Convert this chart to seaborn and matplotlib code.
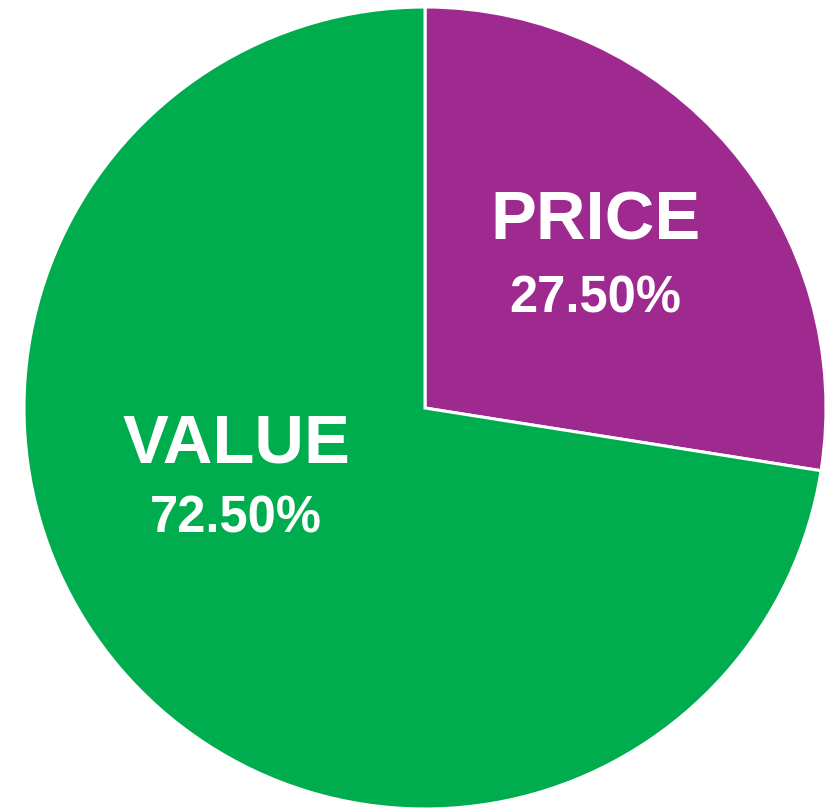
import matplotlib
matplotlib.use("Agg")
import matplotlib.pyplot as plt
import seaborn as sns

categories = ["PRICE", "VALUE"]
shares = [27.5, 72.5]
colors = ["#9E2A8F", "#00AD4E"]

sns.set_theme(style="white")
plt.rcParams['font.family'] = ['Liberation Sans', 'DejaVu Sans']

W, H = 828, 810
fig = plt.figure(figsize=(W / 100, H / 100), dpi=100)
cx, cy, r = 425, 408, 401
ax = fig.add_axes([(cx - r) / W, (H - cy - r) / H, 2 * r / W, 2 * r / H])
wedges, _ = ax.pie(shares, colors=colors, startangle=90, counterclock=False,
                   wedgeprops=dict(edgecolor="white", linewidth=2.2))
for w in wedges:
    w.set_clip_on(False)
ax.set_xlim(-1, 1)
ax.set_ylim(-1, 1)
ax.set_aspect("equal")
ax.axis("off")

# label positions (fraction of radius)
label_pos = [(0.424, 0.464, 0.272), (-0.471, -0.090, -0.276)]
for cat, val, (x, y1, y2) in zip(categories, shares, label_pos):
    ax.text(x, y1, cat, color="white", fontsize=49.5, fontweight="bold",
            ha="center", va="center")
    ax.text(x, y2, f"{val:.2f}%", color="white", fontsize=36.5, fontweight="bold",
            ha="center", va="center")

fig.savefig("out.png", dpi=100)
